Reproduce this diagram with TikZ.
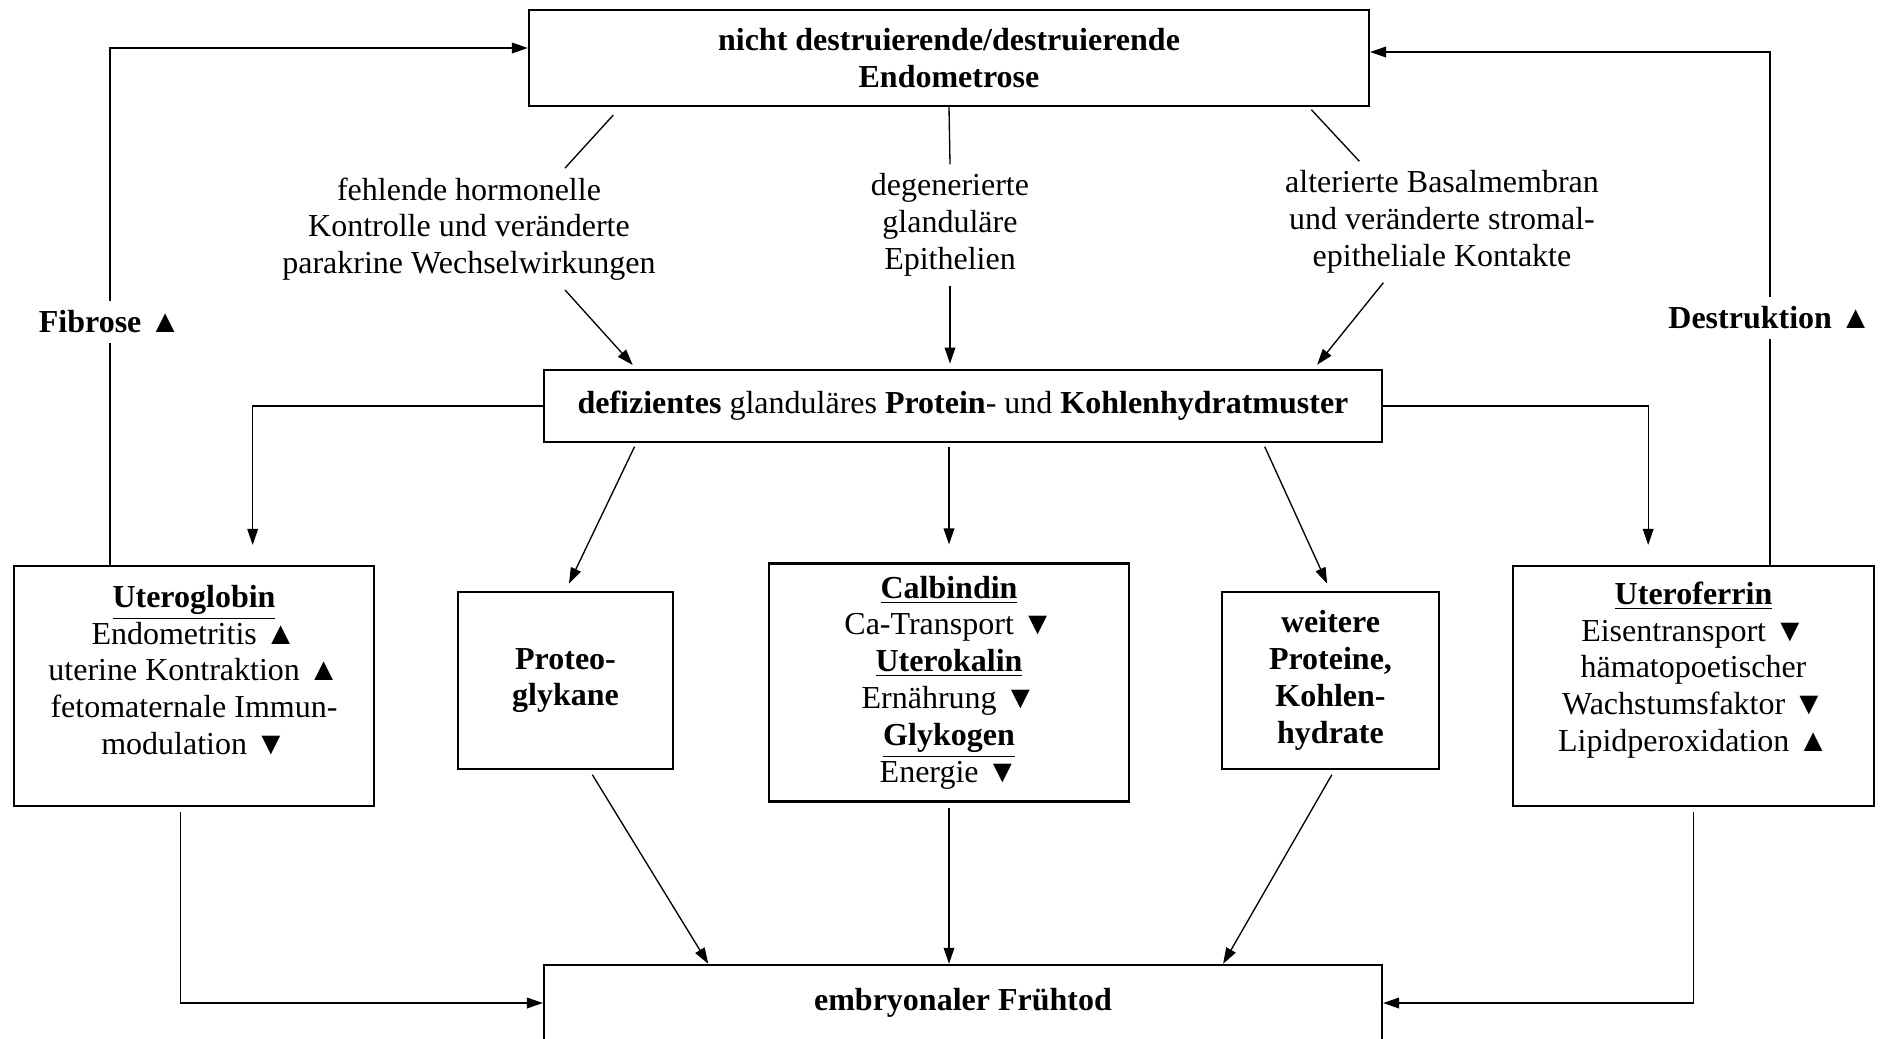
\documentclass[tikz,border=0pt]{standalone}
\usepackage{fontspec}
\setmainfont{Liberation Serif}
\usetikzlibrary{arrows.meta}

\begin{document}
\begin{tikzpicture}[x=0.375pt, y=-0.375pt,
  font=\fontsize{12pt}{13.8pt}\selectfont,
  box/.style={draw, line width=0.8pt, inner sep=0pt, align=center},
  txt/.style={align=center},
  con/.style={line width=0.5pt},
  arr/.style={line width=0.5pt, -{Triangle[length=6pt,width=4pt]}}]
\useasboundingbox (0,0) rectangle (1881,1038);

% boxes
\node[box, minimum width=315pt, minimum height=36pt] (endo) at (949,58)
  {\textbf{nicht destruierende/destruierende}\\\textbf{Endometrose}};
\node[box, minimum width=314.25pt, minimum height=27pt] (mid) at (963,406)
  {\textbf{defizientes} glanduläres \textbf{Protein}- und \textbf{Kohlenhydratmuster}};
\node[box, minimum width=135pt, minimum height=90pt] (ugl) at (194,686) {};
\node[txt] (ugltxt) at ([yshift=6pt]ugl.center)
  {\underline{\textbf{Uteroglobin}}\\Endometritis ▲\\uterine Kontraktion ▲\\fetomaternale Immun-\\modulation ▼};
\node[box, minimum width=80.6pt, minimum height=66.4pt] (pg) at (565.5,680.5)
  {\textbf{Proteo-}\\\textbf{glykane}};
\node[box, minimum width=135pt, minimum height=89.25pt] (cb) at (949,682.5)
  {\underline{\textbf{Calbindin}}\\Ca-Transport ▼\\\underline{\textbf{Uterokalin}}\\Ernährung ▼\\\underline{\textbf{Glykogen}}\\Energie ▼};
\node[box, minimum width=81.4pt, minimum height=66.4pt] (wp) at (1330.5,680.5)
  {\textbf{weitere}\\\textbf{Proteine,}\\\textbf{Kohlen-}\\\textbf{hydrate}};
\node[box, minimum width=135.4pt, minimum height=90pt] (uf) at (1693.5,686) {};
\node[txt] (uftxt) at ([yshift=6pt]uf.center)
  {\underline{\textbf{Uteroferrin}}\\Eisentransport ▼\\hämatopoetischer\\Wachstumsfaktor ▼\\Lipidperoxidation ▲};
\node[box, minimum width=314.25pt, minimum height=28.6pt] (bot) at (963,1003)
  {\textbf{embryonaler Frühtod}};

% causes
\node[txt] (hormon) at (469,229) {fehlende hormonelle\\Kontrolle und veränderte\\parakrine Wechselwirkungen};
\node[txt] (epi) at (950,225) {degenerierte\\glanduläre\\Epithelien};
\node[txt] (basal) at (1442,222) {alterierte Basalmembran\\und veränderte stromal-\\epitheliale Kontakte};

\draw[con] ([shift={(32pt,-3pt)}]endo.south west) -- ([xshift=36pt]hormon.north);
\draw[arr, shorten >=2pt] ([xshift=36pt]hormon.south) -- ([xshift=35pt]mid.north west);
\draw[con] (endo.south) -- (epi.north);
\draw[arr, shorten >=2pt] (epi.south) -- (epi.south |- mid.north);
\draw[con] ([shift={(-22pt,-1pt)}]endo.south east) -- ([xshift=-31pt]basal.north);
\draw[arr, shorten >=2pt] ([xshift=-22pt]basal.south) -- ([xshift=-26pt]mid.north east);

% pattern -> proteins
\draw[arr, shorten >=7.5pt] (mid.west) -| ([xshift=22pt]ugl.north);
\draw[arr, shorten <=1.5pt, shorten >=3pt] ([xshift=35pt]mid.south west) -- (pg.north);
\draw[arr, shorten <=1.5pt, shorten >=6.75pt] (mid.south -| cb.north) -- (cb.north);
\draw[arr, shorten <=1.5pt, shorten >=3pt] ([xshift=-45pt]mid.south east) -- (wp.north);
\draw[arr, shorten >=7.5pt] (mid.east) -| ([xshift=-17pt]uf.north);

% proteins -> Fruehtod
\draw[arr, shorten <=2pt] ([xshift=-5pt]ugl.south) |- (bot.west);
\draw[arr, shorten <=2pt] ([xshift=9pt]pg.south) -- ([xshift=62pt]bot.north west);
\draw[arr, shorten <=2pt] (cb.south) -- (cb.south |- bot.north);
\draw[arr, shorten <=2pt] ([xshift=1.5pt]wp.south) -- ([xshift=-60pt]bot.north east);
\draw[arr, shorten <=2pt] (uf.south) |- (bot.east);

% feedback
\node (fib) at (110,322) {\textbf{Fibrose ▲}};
\draw[con] (ugl.north -| fib) -- (fib.south);
\draw[arr] (fib.north) |- ([yshift=3.75pt]endo.west);
\node (des) at (1770,318) {\textbf{Destruktion ▲}};
\draw[con] (uf.north -| des) -- (des.south);
\draw[arr] (des.north) |- ([yshift=2.25pt]endo.east);
\end{tikzpicture}
\end{document}
